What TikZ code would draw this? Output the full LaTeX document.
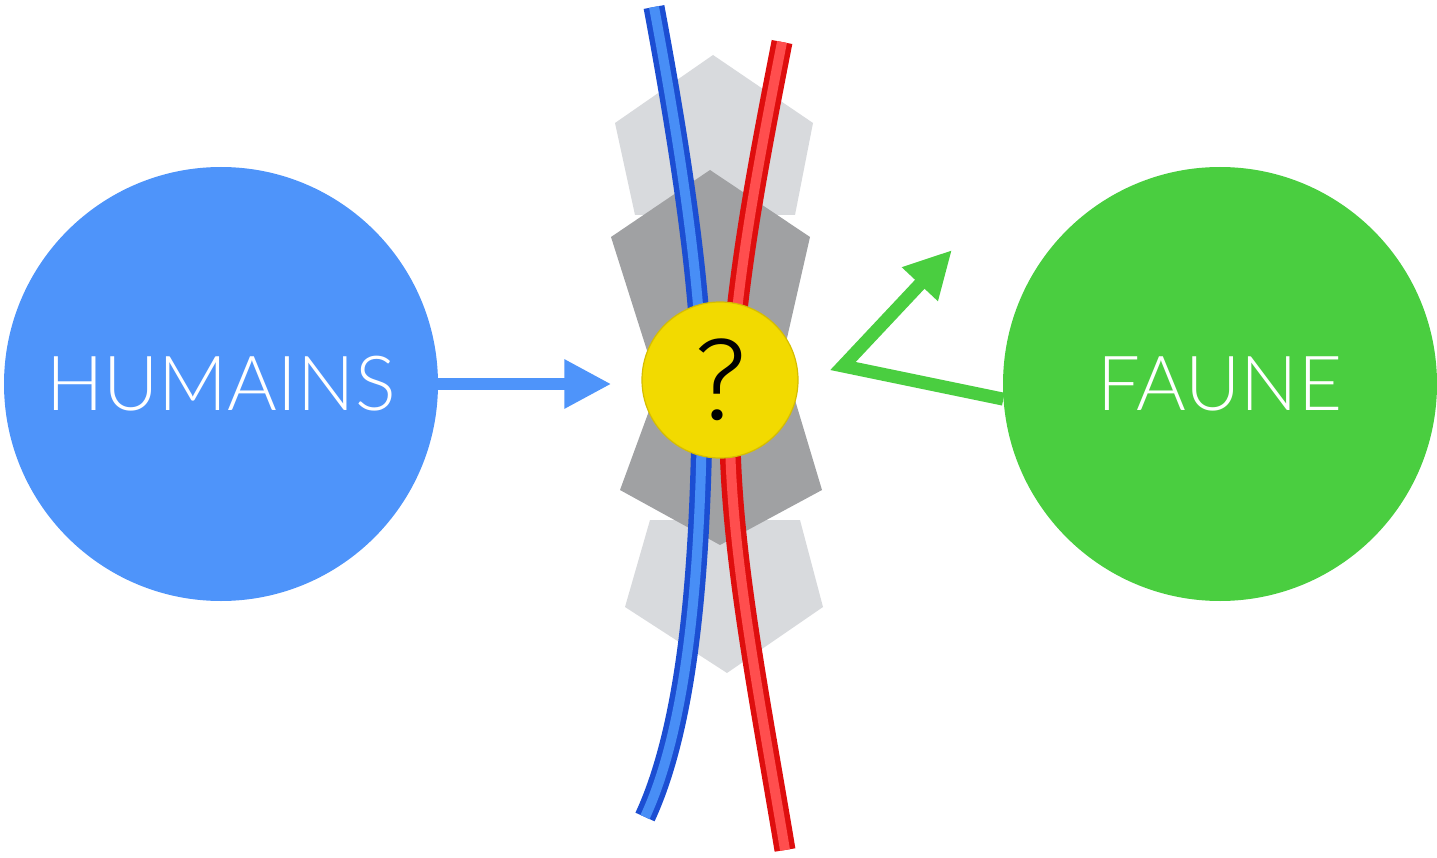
\documentclass[tikz,border=0pt]{standalone}
\usepackage{fontspec}
\setmainfont{Liberation Sans}
\newfontfamily\lightfont{Lato Light}
\newfontfamily\qfont{Fira Sans Light}
\usetikzlibrary{arrows.meta}
\definecolor{cblue}{RGB}{78,148,250}
\definecolor{cgreen}{RGB}{74,206,64}
\definecolor{cyellow}{RGB}{242,218,0}
\definecolor{cyellowd}{RGB}{214,190,0}
\definecolor{lgrey}{RGB}{216,218,221}
\definecolor{dgrey}{RGB}{160,161,163}
\definecolor{redo}{RGB}{222,14,14}
\definecolor{redi}{RGB}{255,78,78}
\definecolor{blueo}{RGB}{28,78,210}
\definecolor{bluei}{RGB}{72,142,246}
\tikzset{
  bigcircle/.style={circle, minimum size=434pt, inner sep=0pt, text=white, font=\lightfont\fontsize{76}{84}\selectfont},
  qcircle/.style={circle, minimum size=156pt, inner sep=0pt, fill=cyellow, draw=cyellowd, line width=1.2pt, font=\qfont\fontsize{116}{124}\selectfont},
  arr/.style={-{Triangle[length=47pt,width=46pt]}},
  wireo/.style={line width=21pt},
  wirei/.style={line width=10pt},
}
\begin{document}
\begin{tikzpicture}[x=1pt,y=-1pt]
\useasboundingbox (0,0) rectangle (1437,858);
% grey shapes
\fill[lgrey] (713,55) -- (813,123) -- (795,215) -- (635,215) -- (615,123) -- cycle;
\fill[lgrey] (727,673) -- (823,607) -- (800,520) -- (650,520) -- (625,607) -- cycle;
\fill[dgrey] (710,170) -- (810,237) -- (782,360) -- (650,360) -- (611,237) -- cycle;
\fill[dgrey] (720,545) -- (822,490) -- (795,400) -- (653,400) -- (620,490) -- cycle;
% wires
\draw[wireo, blueo] (654,7) .. controls (690,200) and (705,330) .. (702,420) .. controls (700,560) and (690,720) .. (645,817);
\draw[wirei, bluei] (654,7) .. controls (690,200) and (705,330) .. (702,420) .. controls (700,560) and (690,720) .. (645,817);
\draw[wireo, redo] (782,42) .. controls (755,180) and (728,320) .. (730,440) .. controls (732,560) and (760,700) .. (785,850);
\draw[wirei, redi] (782,42) .. controls (755,180) and (728,320) .. (730,440) .. controls (732,560) and (760,700) .. (785,850);
% nodes
\node[bigcircle, fill=cblue] (humains) at (221,384) {HUMAINS};
\node[bigcircle, fill=cgreen] (faune) at (1220,384) {FAUNE};
\node[qcircle] (q) at (720,380) {?};
\coordinate (corner) at (843,366);
\coordinate (tip) at (952,250);
% arrows
\draw[arr, cblue, line width=12pt] (humains.east) -- ([xshift=-30pt]q.west |- humains.east);
\draw[arr, cgreen, line width=13pt] (faune.184) -- (corner) -- (tip);
\end{tikzpicture}
\end{document}
